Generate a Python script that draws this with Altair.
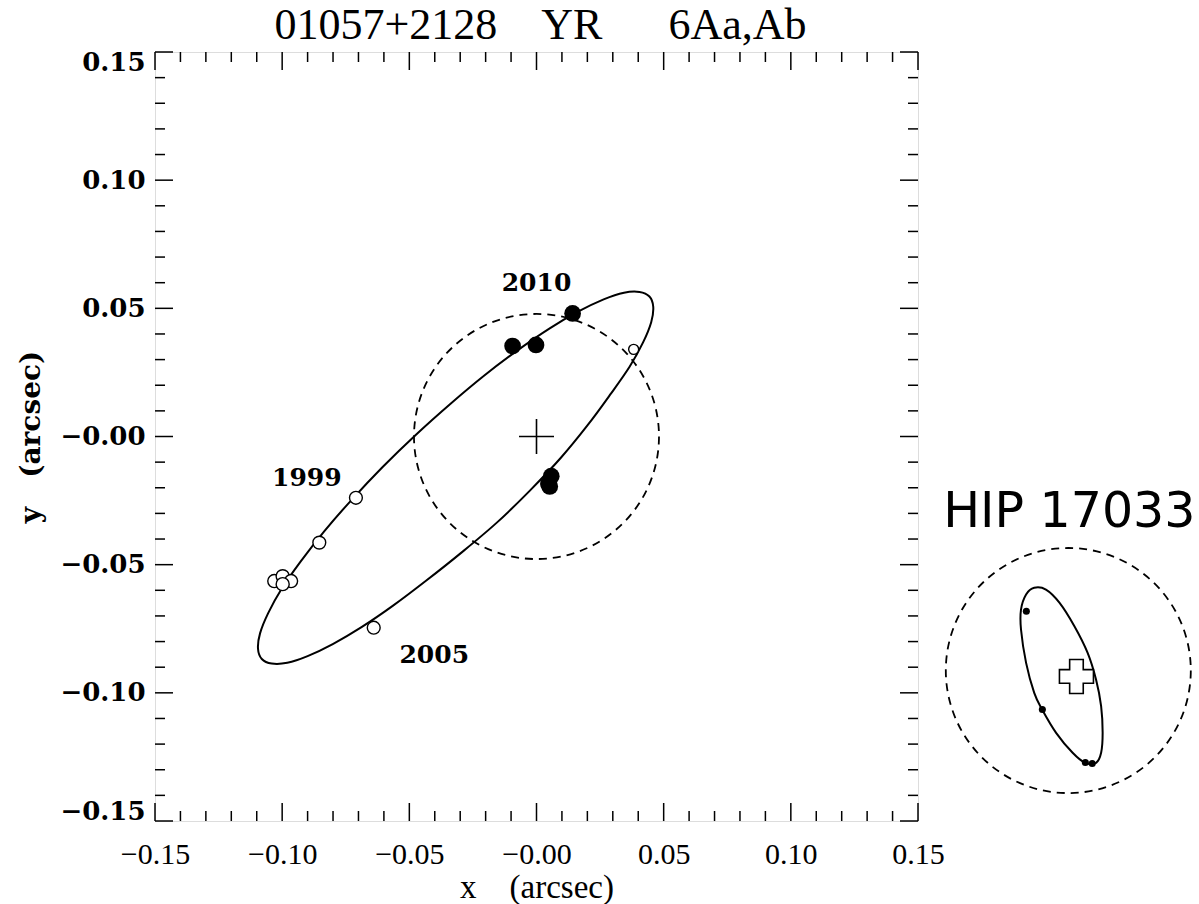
import altair as alt
import pandas as pd

# ---------------- data ----------------
NB = "\u00a0"
title_text = "01057+2128" + NB * 4 + "YR" + NB * 6 + "6Aa,Ab"

# open circles (earlier measures)
open_x = [-0.1031, -0.0998, -0.0965, -0.0998, -0.0854, -0.0710, -0.0640, 0.0382]
open_y = [-0.0564, -0.0545, -0.0564, -0.0576, -0.0414, -0.0239, -0.0746, 0.0340]
open_size = [170, 170, 170, 170, 165, 165, 165, 100]

# filled circles (recent measures)
filled_x = [-0.0094, -0.0002, 0.0142, 0.0058, 0.0047, 0.0052]
filled_y = [0.0353, 0.0357, 0.0480, -0.0155, -0.0185, -0.0195]

# apparent orbit (closed curve)
orbit_x = [0.0444, 0.0405, 0.0344, 0.0264, 0.0165, 0.0052, -0.0072, -0.0204, -0.0339,
           -0.0474, -0.0604, -0.0725, -0.0834, -0.0927, -0.1002, -0.1055, -0.1087, -0.1095,
           -0.1080, -0.1041, -0.0980, -0.0900, -0.0801, -0.0688, -0.0564, -0.0432, -0.0294,
           -0.0156, -0.0026, 0.0095, 0.0201, 0.0291, 0.0366, 0.0419, 0.0451, 0.0459]
orbit_y = [0.0546, 0.0564, 0.0561, 0.0535, 0.0488, 0.0422, 0.0338, 0.0239, 0.0127,
           0.0007, -0.0118, -0.0245, -0.0369, -0.0487, -0.0594, -0.0689, -0.0768, -0.0828,
           -0.0868, -0.0886, -0.0883, -0.0857, -0.0810, -0.0744, -0.0660, -0.0561, -0.0452,
           -0.0336, -0.0211, -0.0084, 0.0044, 0.0165, 0.0272, 0.0367, 0.0446, 0.0506]

year_labels = ["2010", "1999", "2005"]
year_x = [0.0000, -0.0903, -0.0402]
year_y = [0.0597, -0.0160, -0.0854]

primary_x = [0.0]
primary_y = [0.0]

# inset: HIP 17033 (placed to the right of the main frame)
inset_label = "HIP 17033"
inset_label_x = [0.2095]
inset_label_y = [-0.0296]
inset_circle_x = [0.2091]
inset_circle_y = [-0.0913]
inset_cross_x = [0.2123]
inset_cross_y = [-0.0936]
inset_orbit_x = [0.1957, 0.1925, 0.1905, 0.1905, 0.1925, 0.1957, 0.1988, 0.2043,
                 0.2108, 0.2157, 0.2200, 0.2220, 0.2226, 0.2220, 0.2200, 0.2167,
                 0.2115, 0.2056, 0.2003]
inset_orbit_y = [-0.0590, -0.0616, -0.0675, -0.0753, -0.0883, -0.1000, -0.1065, -0.1156,
                 -0.1234, -0.1273, -0.1273, -0.1234, -0.1156, -0.1052, -0.0948, -0.0844,
                 -0.0740, -0.0648, -0.0597]
inset_dot_x = [0.1926, 0.1989, 0.2158, 0.2185]
inset_dot_y = [-0.0682, -0.1065, -0.1272, -0.1276]

major_ticks = [-0.15, -0.10, -0.05, 0.0, 0.05, 0.10, 0.15]
tick_labels = ["\u22120.15", "\u22120.10", "\u22120.05", "\u22120.00", "0.05", "0.10", "0.15"]
minor_ticks = [-0.14, -0.13, -0.12, -0.11, -0.09, -0.08, -0.07, -0.06,
               -0.04, -0.03, -0.02, -0.01, 0.01, 0.02, 0.03, 0.04,
               0.06, 0.07, 0.08, 0.09, 0.11, 0.12, 0.13, 0.14]

# ---------------- chart ----------------
W, H = 763, 769
DOM = [-0.15, 0.15]

label_expr = ""
for v, t in zip(major_ticks, tick_labels):
    label_expr += f"abs(datum.value - ({v})) < 0.001 ? '{t}' : "
label_expr += "''"

xs = alt.Scale(domain=DOM, nice=False, zero=False)
ys = alt.Scale(domain=DOM, nice=False, zero=False)

X = lambda f: alt.X(f, type="quantitative", scale=xs,
                    axis=alt.Axis(values=major_ticks, labelExpr=label_expr,
                                  title="x" + NB * 4 + "(arcsec)",
                                  ticks=False, domain=False, grid=False, labelFont="Liberation Serif",
                                  labelFontSize=30, labelPadding=18, titleFont="Liberation Serif",
                                  titleFontSize=33, titleFontWeight="normal", titlePadding=2,
                                  labelColor="black", titleColor="black", labelFlush=False))
Y = lambda f: alt.Y(f, type="quantitative", scale=ys,
                    axis=alt.Axis(values=major_ticks, labelExpr=label_expr,
                                  title="y" + NB * 3 + "(arcsec)",
                                  ticks=False, domain=False, grid=False, labelFont="DejaVu Serif",
                                  labelFontWeight="bold", labelFontSize=26, labelPadding=10,
                                  titleFont="DejaVu Serif", titleFontSize=28, titleFontWeight="bold",
                                  titlePadding=14, labelColor="black", titleColor="black",
                                  labelFlush=True, labelFlushOffset=3))

orbit_df = pd.DataFrame({"x": orbit_x, "y": orbit_y, "i": range(len(orbit_x))})
orbit = alt.Chart(orbit_df).mark_line(color="black", strokeWidth=2, interpolate="cardinal-closed").encode(
    x=X("x"), y=Y("y"), order="i:Q")

circle = alt.Chart(pd.DataFrame({"x": primary_x, "y": primary_y})).mark_point(
    shape="circle", filled=False, size=245 ** 2, color="black", strokeWidth=1.8,
    strokeDash=[8, 6], opacity=1).encode(x="x:Q", y="y:Q")

cross = alt.Chart(pd.DataFrame({"x": primary_x, "y": primary_y})).mark_point(
    shape="M-1,0L1,0M0,-1L0,1", filled=False, size=35 ** 2, color="black",
    strokeWidth=1.6, opacity=1).encode(x="x:Q", y="y:Q")

open_pts = alt.Chart(pd.DataFrame({"x": open_x, "y": open_y, "s": open_size})).mark_point(
    shape="circle", filled=True, fill="white", stroke="black", strokeWidth=1.4, opacity=1).encode(
    x="x:Q", y="y:Q", size=alt.Size("s:Q", scale=None, legend=None))

filled_pts = alt.Chart(pd.DataFrame({"x": filled_x, "y": filled_y})).mark_point(
    shape="circle", filled=True, color="black", size=280, opacity=1).encode(x="x:Q", y="y:Q")

years = alt.Chart(pd.DataFrame({"x": year_x, "y": year_y, "t": year_labels})).mark_text(
    font="DejaVu Serif", fontSize=25, fontWeight="bold", color="black", align="center",
    baseline="middle").encode(x="x:Q", y="y:Q", text="t:N")


def tick_layer(vals, length, side):
    df = pd.DataFrame({"v": vals})
    base = alt.Chart(df).mark_rule(color="black", strokeWidth=1.5)
    if side == "bottom":
        return base.encode(x="v:Q", y=alt.value(H), y2=alt.value(H - length))
    if side == "top":
        return base.encode(x="v:Q", y=alt.value(0), y2=alt.value(length))
    if side == "left":
        return base.encode(y="v:Q", x=alt.value(0), x2=alt.value(length))
    return base.encode(y="v:Q", x=alt.value(W), x2=alt.value(W - length))


ticks = []
for side in ["bottom", "top", "left", "right"]:
    ticks.append(tick_layer(major_ticks, 18, side))
    ticks.append(tick_layer(minor_ticks, 10, side))

# inset layers
inset_text = alt.Chart(pd.DataFrame({"x": inset_label_x, "y": inset_label_y, "t": [inset_label]})).mark_text(
    font="DejaVu Sans", fontSize=49, color="black", align="center", baseline="middle").encode(
    x="x:Q", y="y:Q", text="t:N")
inset_circle = alt.Chart(pd.DataFrame({"x": inset_circle_x, "y": inset_circle_y})).mark_point(
    shape="circle", filled=False, size=245 ** 2, color="black", strokeWidth=1.8,
    strokeDash=[8, 6], opacity=1).encode(x="x:Q", y="y:Q")
inset_orbit = alt.Chart(pd.DataFrame({"x": inset_orbit_x, "y": inset_orbit_y,
                                      "i": range(len(inset_orbit_x))})).mark_line(
    color="black", strokeWidth=2, interpolate="cardinal-closed").encode(x="x:Q", y="y:Q", order="i:Q")
inset_cross = alt.Chart(pd.DataFrame({"x": inset_cross_x, "y": inset_cross_y})).mark_point(
    shape="cross", filled=True, fill="white", stroke="black", strokeWidth=1.6, size=34 ** 2,
    opacity=1).encode(x="x:Q", y="y:Q")
inset_dots = alt.Chart(pd.DataFrame({"x": inset_dot_x, "y": inset_dot_y})).mark_point(
    shape="circle", filled=True, color="black", size=50, opacity=1).encode(x="x:Q", y="y:Q")

chart = alt.layer(
    orbit, circle, cross, open_pts, filled_pts, years, *ticks,
    inset_text, inset_circle, inset_orbit, inset_cross, inset_dots
).properties(
    width=W, height=H,
    title=alt.TitleParams(title_text, font="Liberation Serif", fontSize=44, fontWeight="normal",
                          color="black", anchor="middle", offset=1, dx=4),
    padding={"left": 17, "top": 4, "right": 0, "bottom": 0},
).configure_view(stroke="black", strokeWidth=2).configure(background="white")

chart.save("out.html", embed_options={"renderer": "svg", "actions": False})
